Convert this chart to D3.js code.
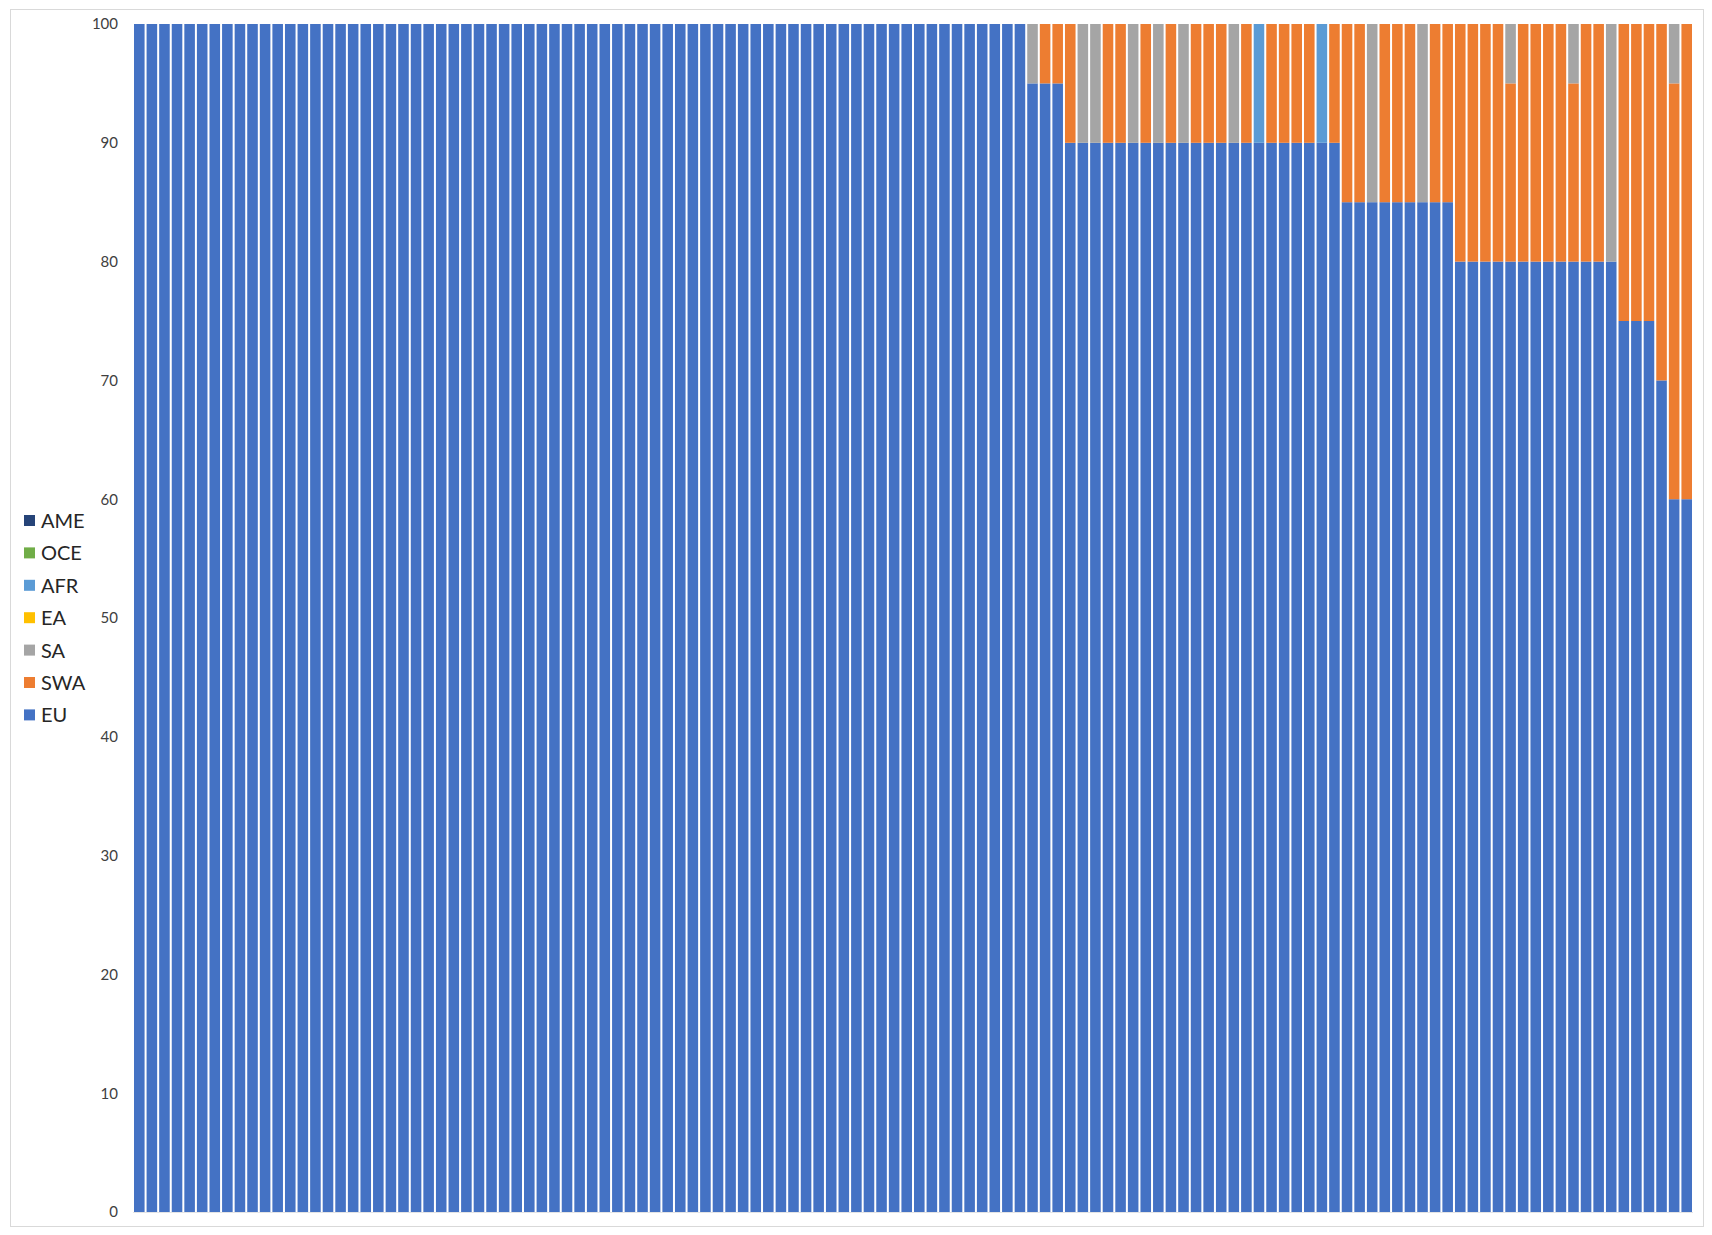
<!DOCTYPE html>
<html>
<head>
<meta charset="utf-8">
<script src="https://cdn.jsdelivr.net/npm/d3@7"></script>
<style>
  body { margin: 0; background: #fff; }
  text { font-family: Lato, "Open Sans", sans-serif; }
</style>
</head>
<body>
<script>
// les séries (une valeur par échantillon, en %)
const EU = [
  100,100,100,100,100,100,100,100,100,100,100,100,100,100,100,100,100,100,100,100,
  100,100,100,100,100,100,100,100,100,100,100,100,100,100,100,100,100,100,100,100,
  100,100,100,100,100,100,100,100,100,100,100,100,100,100,100,100,100,100,100,100,
  100,100,100,100,100,100,100,100,100,100,100,
  95,95,95,
  90,90,90,90,90,90,90,90,90,90,90,90,90,90,90,90,90,90,90,90,90,90,
  85,85,85,85,85,85,85,85,85,
  80,80,80,80,80,80,80,80,80,80,80,80,80,
  75,75,75,70,60,60
]
const SWA = [
  0,0,0,0,0,0,0,0,0,0,0,0,0,0,0,0,0,0,0,0,
  0,0,0,0,0,0,0,0,0,0,0,0,0,0,0,0,0,0,0,0,
  0,0,0,0,0,0,0,0,0,0,0,0,0,0,0,0,0,0,0,0,
  0,0,0,0,0,0,0,0,0,0,0,
  0,5,5,
  10,0,0,10,10,0,10,0,10,0,10,10,10,0,10,0,10,10,10,10,0,10,
  15,15,0,15,15,15,0,15,15,
  20,20,20,20,15,20,20,20,20,15,20,20,0,
  25,25,25,30,35,40
]
const SA = [
  0,0,0,0,0,0,0,0,0,0,0,0,0,0,0,0,0,0,0,0,
  0,0,0,0,0,0,0,0,0,0,0,0,0,0,0,0,0,0,0,0,
  0,0,0,0,0,0,0,0,0,0,0,0,0,0,0,0,0,0,0,0,
  0,0,0,0,0,0,0,0,0,0,0,
  5,0,0,
  0,10,10,0,0,10,0,10,0,10,0,0,0,10,0,0,0,0,0,0,0,0,
  0,0,15,0,0,0,15,0,0,
  0,0,0,0,5,0,0,0,0,5,0,0,20,
  0,0,0,0,5,0
]
const EA = [
  0,0,0,0,0,0,0,0,0,0,0,0,0,0,0,0,0,0,0,0,
  0,0,0,0,0,0,0,0,0,0,0,0,0,0,0,0,0,0,0,0,
  0,0,0,0,0,0,0,0,0,0,0,0,0,0,0,0,0,0,0,0,
  0,0,0,0,0,0,0,0,0,0,0,
  0,0,0,
  0,0,0,0,0,0,0,0,0,0,0,0,0,0,0,0,0,0,0,0,0,0,
  0,0,0,0,0,0,0,0,0,
  0,0,0,0,0,0,0,0,0,0,0,0,0,
  0,0,0,0,0,0
]
const AFR = [
  0,0,0,0,0,0,0,0,0,0,0,0,0,0,0,0,0,0,0,0,
  0,0,0,0,0,0,0,0,0,0,0,0,0,0,0,0,0,0,0,0,
  0,0,0,0,0,0,0,0,0,0,0,0,0,0,0,0,0,0,0,0,
  0,0,0,0,0,0,0,0,0,0,0,
  0,0,0,
  0,0,0,0,0,0,0,0,0,0,0,0,0,0,0,10,0,0,0,0,10,0,
  0,0,0,0,0,0,0,0,0,
  0,0,0,0,0,0,0,0,0,0,0,0,0,
  0,0,0,0,0,0
]
const OCE = [
  0,0,0,0,0,0,0,0,0,0,0,0,0,0,0,0,0,0,0,0,
  0,0,0,0,0,0,0,0,0,0,0,0,0,0,0,0,0,0,0,0,
  0,0,0,0,0,0,0,0,0,0,0,0,0,0,0,0,0,0,0,0,
  0,0,0,0,0,0,0,0,0,0,0,
  0,0,0,
  0,0,0,0,0,0,0,0,0,0,0,0,0,0,0,0,0,0,0,0,0,0,
  0,0,0,0,0,0,0,0,0,
  0,0,0,0,0,0,0,0,0,0,0,0,0,
  0,0,0,0,0,0
]
const AME = [
  0,0,0,0,0,0,0,0,0,0,0,0,0,0,0,0,0,0,0,0,
  0,0,0,0,0,0,0,0,0,0,0,0,0,0,0,0,0,0,0,0,
  0,0,0,0,0,0,0,0,0,0,0,0,0,0,0,0,0,0,0,0,
  0,0,0,0,0,0,0,0,0,0,0,
  0,0,0,
  0,0,0,0,0,0,0,0,0,0,0,0,0,0,0,0,0,0,0,0,0,0,
  0,0,0,0,0,0,0,0,0,
  0,0,0,0,0,0,0,0,0,0,0,0,0,
  0,0,0,0,0,0
]

// noms des séries, de bas en haut dans la pile
const SERIES = ['EU', 'SWA', 'SA', 'EA', 'AFR', 'OCE', 'AME']
const VALUES = { EU, SWA, SA, EA, AFR, OCE, AME }
const COLORS = ['#4472C4', '#ED7D31', '#A5A5A5', '#FFC000', '#5B9BD5', '#70AD47', '#264478']
const Y_TICKS = [0, 10, 20, 30, 40, 50, 60, 70, 80, 90, 100]

// les échantillons n'ont pas de nom, juste un numéro
const CATEGORIES = EU.map((d, i) => i + 1)

const WIDTH = 1712
const HEIGHT = 1235
const PLOT = { left: 133, right: 1693, top: 24, bottom: 1212 }

// une ligne par échantillon pour d3.stack
const rows = CATEGORIES.map((c, i) => {
  const row = { cat: c }
  SERIES.forEach(s => { row[s] = VALUES[s][i] })
  return row
})

const svg = d3.select('body')
  .append('svg')
  .attr('width', WIDTH)
  .attr('height', HEIGHT)

svg.append('rect')
  .attr('width', WIDTH)
  .attr('height', HEIGHT)
  .attr('fill', '#fff')

// le cadre gris clair autour du graphique
svg.append('rect')
  .attr('x', 10.5)
  .attr('y', 9.5)
  .attr('width', 1693)
  .attr('height', 1217)
  .attr('fill', 'none')
  .attr('stroke', '#d9d9d9')

const xScale = d3.scaleBand()
  .domain(CATEGORIES)
  .range([PLOT.left, PLOT.right])
  .paddingInner(0.16)
  .paddingOuter(0.08)

const yScale = d3.scaleLinear()
  .domain([0, 100])
  .range([PLOT.bottom, PLOT.top])

const color = d3.scaleOrdinal().domain(SERIES).range(COLORS)

const stacked = d3.stack().keys(SERIES)(rows)

svg.append('g')
  .selectAll('g')
  .data(stacked)
  .join('g')
  .attr('fill', d => color(d.key))
  .selectAll('rect')
  .data(d => d.filter(p => p[1] > p[0]))
  .join('rect')
  .attr('x', d => xScale(d.data.cat))
  .attr('width', xScale.bandwidth())
  .attr('y', d => yScale(d[1]))
  .attr('height', d => yScale(d[0]) - yScale(d[1]))

// axe horizontal, juste la ligne
svg.append('line')
  .attr('x1', PLOT.left)
  .attr('x2', PLOT.right)
  .attr('y1', PLOT.bottom + 0.5)
  .attr('y2', PLOT.bottom + 0.5)
  .attr('stroke', '#e4e4e4')

// axe vertical: seulement les étiquettes
const yAxis = svg.append('g')
  .attr('transform', `translate(${PLOT.left}, 0)`)
  .call(d3.axisLeft(yScale).tickValues(Y_TICKS).tickSize(0).tickPadding(15))
yAxis.select('.domain').remove()
yAxis.selectAll('text')
  .attr('font-size', 15)
  .attr('font-family', 'Lato, "Open Sans", sans-serif')
  .attr('fill', '#404040')

// la légende, AME en haut
const legend = svg.append('g')
  .selectAll('g')
  .data(SERIES.slice().reverse())
  .join('g')
  .attr('transform', (d, i) => `translate(24, ${521 + i * 32.4})`)

legend.append('rect')
  .attr('y', -6)
  .attr('width', 11)
  .attr('height', 11)
  .attr('fill', d => color(d))

legend.append('text')
  .attr('x', 17)
  .attr('dy', '0.35em')
  .attr('font-size', 20)
  .attr('fill', '#262626')
  .text(d => d)
</script>
</body>
</html>
